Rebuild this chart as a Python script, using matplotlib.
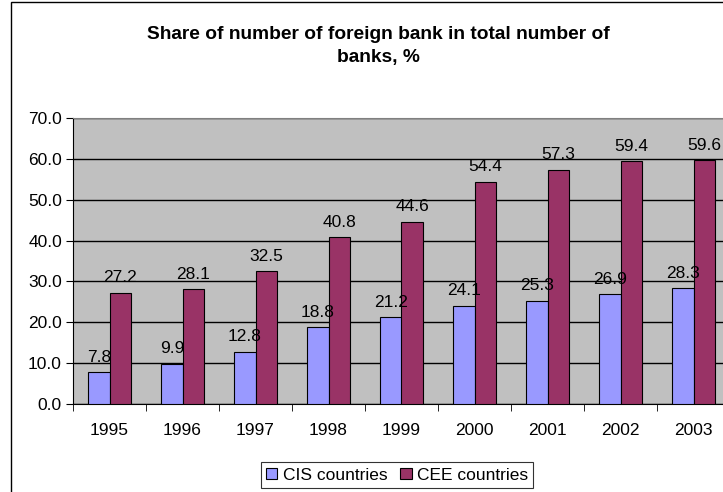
import matplotlib
matplotlib.use("Agg")
import matplotlib.pyplot as plt
import numpy as np
from matplotlib.patches import Rectangle

years = ["1995", "1996", "1997", "1998", "1999", "2000", "2001", "2002", "2003"]
cis = [7.8, 9.9, 12.8, 18.8, 21.2, 24.1, 25.3, 26.9, 28.3]
cee = [27.2, 28.1, 32.5, 40.8, 44.6, 54.4, 57.3, 59.4, 59.6]
title = "Share of number of foreign bank in total number of\nbanks, %"

plt.rcParams['font.family'] = ['Liberation Sans', 'DejaVu Sans']

W, H = 723, 492
fs = 12.5
fig = plt.figure(figsize=(W / 100, H / 100), dpi=100)
fig.patch.set_facecolor("white")

# outer chart border
fig.add_artist(Rectangle((11 / W, -0.1), 1.2, 1 - 1.5 / H + 0.1, transform=fig.transFigure,
                         fill=False, edgecolor="black", linewidth=1.0))

ax = fig.add_axes([73 / W, 1 - 404 / H, 657 / W, 286 / H])
ax.set_facecolor("#C0C0C0")
x = np.arange(len(years))
bw = 0.29
b1 = ax.bar(x - bw / 2, cis, bw, color="#9999FF", edgecolor="black", linewidth=0.8,
            label="CIS countries", zorder=3)
b2 = ax.bar(x + bw / 2, cee, bw, color="#993366", edgecolor="black", linewidth=0.8,
            label="CEE countries", zorder=3)

for rects, vals in ((b1, cis), (b2, cee)):
    for r, v in zip(rects, vals):
        ax.annotate(f"{v:.1f}", (r.get_x() + r.get_width() / 2, v), xytext=(0, 7.5),
                    textcoords="offset points", ha="center", va="baseline", fontsize=fs, zorder=5)

ax.set_xlim(-0.5, len(years) - 0.5)
ax.set_ylim(0, 70)
ax.set_yticks(np.arange(0, 71, 10))
ax.set_yticklabels([f"{v:.1f}" for v in np.arange(0, 71, 10)], fontsize=fs)
ax.yaxis.grid(True, color="black", linewidth=1.0, zorder=1)
ax.set_axisbelow(True)

ax.set_xticks(x)
ax.set_xticklabels(years, fontsize=fs)
ax.tick_params(axis="x", length=0, pad=14)
ax.set_xticks(np.arange(-0.5, len(years), 1), minor=True)
ax.tick_params(axis="x", which="minor", length=5, direction="out", color="black")
ax.tick_params(axis="y", length=5, direction="out", color="black", pad=3)

for s in ("top", "right"):
    ax.spines[s].set_color("#808080")
ax.spines["left"].set_color("black")
ax.spines["bottom"].set_color("black")

fig.text(378 / W, 1 - 46 / H, title, ha="center", va="center",
         fontsize=13.8, fontweight="bold", linespacing=1.4)

leg = fig.legend(handles=[b1, b2], loc="center", bbox_to_anchor=(397 / W, 1 - 475 / H),
                 ncol=2, fontsize=fs, frameon=True, fancybox=False, edgecolor="black",
                 handlelength=0.65, handleheight=0.65, handletextpad=0.3, columnspacing=0.75,
                 borderpad=0.3, borderaxespad=0)
leg.get_frame().set_linewidth(0.8)

fig.savefig("out.png", dpi=100)
